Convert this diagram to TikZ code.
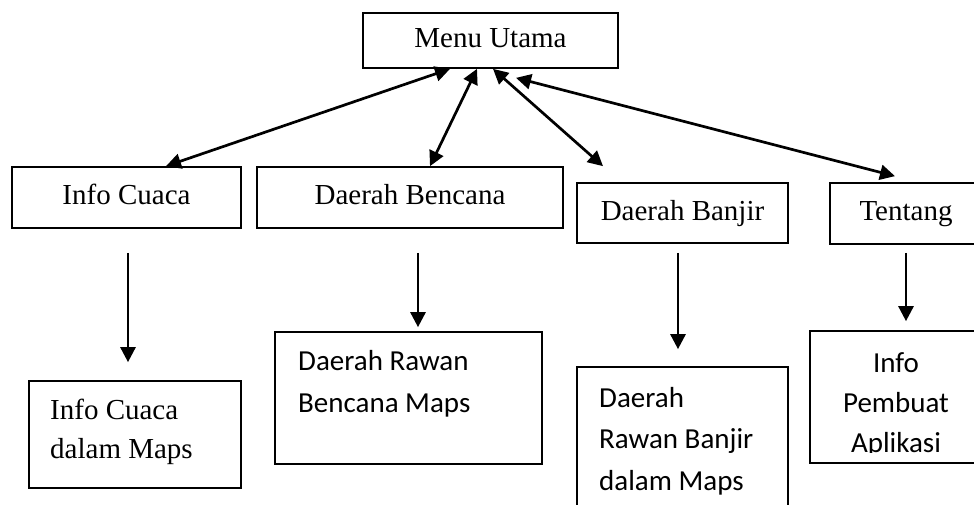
\documentclass[tikz,border=0pt]{standalone}
\usepackage{fontspec}
\setmainfont{Liberation Serif}
\setsansfont{Carlito}
\usetikzlibrary{arrows.meta}
\tikzset{
  box/.style={draw, line width=1.7pt, inner sep=0pt},
  serifone/.style={font=\fontsize{29pt}{34pt}\selectfont, text height=20pt, text depth=6pt},
  txt/.style={inner sep=0pt},
  arr/.style={line width=2.7pt, -{Triangle[length=15pt,width=15pt]}},
  darr/.style={line width=2.7pt, {Triangle[length=15pt,width=15pt]}-{Triangle[length=15pt,width=15pt]}}
}
\begin{document}
\begin{tikzpicture}[x=1pt,y=-1pt]
\path[use as bounding box, clip] (0,0) rectangle (974,504);
\fill[white] (0,0) rectangle (974,504);
% top row
\node[box, serifone, minimum width=255pt, minimum height=55pt] (mu) at (490.5,40.5) {Menu Utama};
\node[box, serifone, minimum width=229pt, minimum height=61pt] (ic) at (126.5,197.5) {Info Cuaca};
\node[box, serifone, minimum width=306pt, minimum height=61pt] (db) at (410,197.5) {Daerah Bencana};
\node[box, serifone, minimum width=211pt, minimum height=60pt] (dbj) at (682.5,213) {Daerah Banjir};
\node[box, serifone, minimum width=152pt, minimum height=61pt] (ten) at (906,213.5) {Tentang};
% bottom row boxes
\node[box, minimum width=212pt, minimum height=107pt] (icm) at (135,434.5) {};
\node[box, minimum width=267pt, minimum height=132pt] (drb) at (408.5,398) {};
\node[box, minimum width=211pt, minimum height=153pt] (drbj) at (682.5,443.5) {};
\node[box, minimum width=172pt, minimum height=132pt] (ipa) at (896,397) {};
% bottom texts (base anchor = baseline of last line)
\node[txt, anchor=base west, align=left, font=\fontsize{29pt}{39pt}\selectfont] (icmt) at (50,458) {Info Cuaca\\dalam Maps};
\node[txt, anchor=base west, align=left, font=\sffamily\fontsize{29pt}{42pt}\selectfont] (drbt) at (298,412) {Daerah Rawan\\Bencana Maps};
\node[txt, anchor=base west, align=left, font=\sffamily\fontsize{29pt}{41.5pt}\selectfont] (drbjt) at (599,490) {Daerah\\Rawan Banjir\\dalam Maps};
\begin{scope}
\clip (800,320) rectangle (990,452);
\node[txt, anchor=base, align=center, font=\sffamily\fontsize{29pt}{40pt}\selectfont] (ipat) at (896,452) {Info\\Pembuat\\Aplikasi};
\end{scope}
% double arrows
\draw[darr] ([xshift=-40.5pt]mu.south) -- ([xshift=39.5pt]ic.north);
\draw[darr] ([xshift=-13.5pt]mu.south) -- ([xshift=20pt]db.north);
\draw[darr] ([xshift=2.5pt]mu.south) -- ([xshift=-79.5pt,yshift=16pt]dbj.north);
\draw[darr] ([xshift=25.5pt,yshift=-9pt]mu.south) -- ([xshift=-11pt,yshift=6pt]ten.north);
% down arrows
\draw[arr, shorten <=24pt, shorten >=18pt] ([xshift=1.5pt]ic.south) -- ([xshift=-7pt]icm.north);
\draw[arr, shorten <=24pt, shorten >=4pt] ([xshift=8pt]db.south) -- ([xshift=9.5pt]drb.north);
\draw[arr, shorten <=9pt, shorten >=17pt] ([xshift=-4.5pt]dbj.south) -- ([xshift=-4.5pt]drbj.north);
\draw[arr, shorten <=8pt, shorten >=9pt] (ten.south) -- ([xshift=10pt]ipa.north);
\end{tikzpicture}
\end{document}
